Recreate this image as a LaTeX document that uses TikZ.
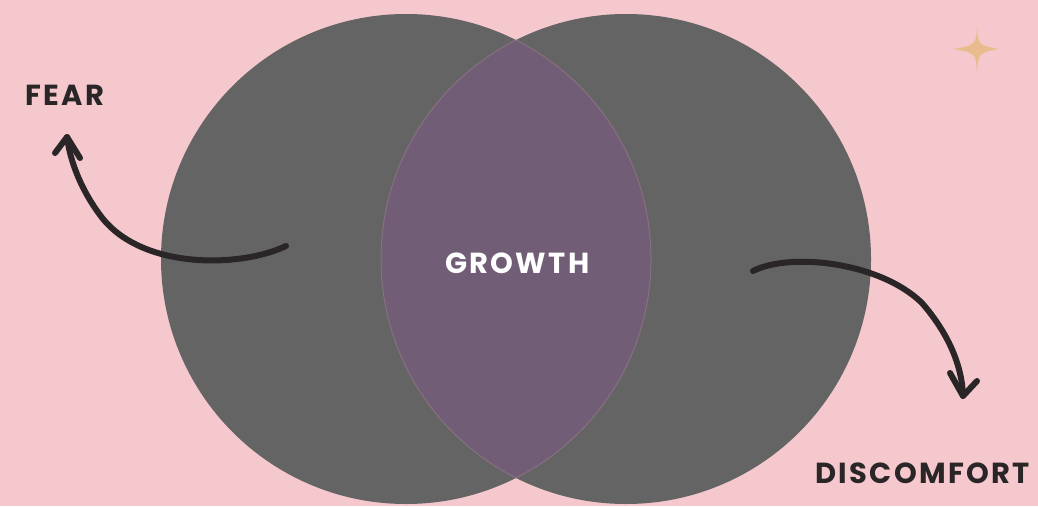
\documentclass[tikz,border=0pt]{standalone}
\usepackage{fontspec}
\newfontfamily\lab{Poppins}[LetterSpace=8]
\definecolor{bg}{HTML}{F5C8CE}
\definecolor{disc}{HTML}{646464}
\definecolor{lensc}{HTML}{725D77}
\definecolor{lensedge}{HTML}{887080}
\definecolor{ink}{HTML}{2A2527}
\definecolor{starc}{HTML}{E8BC8C}
\tikzset{
  circ/.style={circle, fill=disc, draw=none, inner sep=0pt, minimum size=490pt},
  word/.style={font=\lab\bfseries\fontsize{29}{32}\selectfont, text=ink, inner sep=0pt, anchor=base west},
  curvearrow/.style={draw=ink, line width=6pt, line cap=round, line join=round},
}
\begin{document}
\begin{tikzpicture}[x=1pt,y=-1pt]
\fill[bg] (0,0) rectangle (1038,506);
\useasboundingbox (0,0) rectangle (1038,506);
% circles
\node[circ] (L) at (406,259) {};
\node[circ] (R) at (626,259) {};
% lens
\begin{scope}
  \clip (406,259) circle (245pt);
  \fill[lensc] (626,259) circle (245pt);
  \draw[lensedge, line width=1pt] (626,259) circle (245pt);
\end{scope}
\begin{scope}
  \clip (626,259) circle (245pt);
  \draw[lensedge, line width=1pt] (406,259) circle (245pt);
\end{scope}
% labels
\node[word] (fear) at (25,105) {FEAR};
\node[word] (discomfort) at (815,483) {DISCOMFORT};
\node[word, text=white] (growth) at (445,273) {GROWTH};
% arrow coordinates
\coordinate (fs) at (286,246);
\coordinate (ft) at (67,137);
\coordinate (fl) at (55,153);
\coordinate (fr) at (80,158);
\coordinate (ds) at (753,271);
\coordinate (dt) at (963,396);
\coordinate (dl) at (950,373);
\coordinate (dr) at (977,381);
% arrows
\draw[curvearrow] (fs) .. controls (240,268) and (140,270) .. (100,215) .. controls (80,188) and (70,160) .. (ft);
\draw[curvearrow] (fl) -- (ft) -- (fr);
\draw[curvearrow] (ds) .. controls (790,252) and (880,262) .. (922,303) .. controls (948,333) and (962,365) .. (dt);
\draw[curvearrow] (dl) -- (dt) -- (dr);
% star
\fill[starc] (977,25) .. controls (978,45) .. (999,49) .. controls (978,53) .. (977,75) .. controls (976,53) .. (953,49) .. controls (976,45) .. (977,25) -- cycle;
\end{tikzpicture}
\end{document}
